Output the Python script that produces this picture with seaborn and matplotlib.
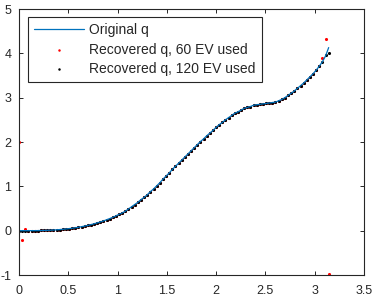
import numpy as np
import pandas as pd
import matplotlib
matplotlib.use("Agg")
import matplotlib.pyplot as plt
import seaborn as sns

# sample grid (100 samples on [0, pi])
x_vals = np.linspace(0, np.pi, 100)

q_original = [
    0.000, 0.000, 0.000, 0.000, 0.001, 0.001, 0.002, 0.004, 0.006, 0.008,
    0.011, 0.015, 0.019, 0.025, 0.031, 0.038, 0.046, 0.055, 0.065, 0.077,
    0.089, 0.104, 0.119, 0.136, 0.155, 0.175, 0.197, 0.220, 0.246, 0.273,
    0.302, 0.333, 0.370, 0.400, 0.440, 0.490, 0.540, 0.590, 0.640, 0.700,
    0.750, 0.810, 0.880, 0.940, 1.010, 1.080, 1.160, 1.230, 1.300, 1.380,
    1.450, 1.520, 1.590, 1.660, 1.730, 1.800, 1.870, 1.940, 2.010, 2.070,
    2.140, 2.200, 2.260, 2.330, 2.390, 2.440, 2.500, 2.550, 2.600, 2.650,
    2.680, 2.720, 2.760, 2.780, 2.800, 2.830, 2.840, 2.850, 2.860, 2.870,
    2.880, 2.890, 2.900, 2.930, 2.960, 3.000, 3.050, 3.100, 3.150, 3.210,
    3.270, 3.330, 3.400, 3.470, 3.540, 3.620, 3.710, 3.810, 3.940, 4.130,
]

q_60ev = [
    2.000, -0.200, 0.040, 0.000, 0.001, 0.001, 0.002, 0.004, 0.006, 0.008,
    0.011, 0.015, 0.019, 0.025, 0.031, 0.038, 0.046, 0.055, 0.065, 0.077,
    0.089, 0.104, 0.119, 0.136, 0.155, 0.175, 0.197, 0.220, 0.246, 0.273,
    0.302, 0.333, 0.370, 0.400, 0.440, 0.490, 0.540, 0.590, 0.640, 0.700,
    0.750, 0.810, 0.880, 0.940, 1.010, 1.080, 1.160, 1.230, 1.300, 1.380,
    1.450, 1.520, 1.590, 1.660, 1.730, 1.800, 1.870, 1.940, 2.010, 2.070,
    2.140, 2.200, 2.260, 2.330, 2.390, 2.440, 2.500, 2.550, 2.600, 2.650,
    2.680, 2.720, 2.760, 2.780, 2.800, 2.830, 2.840, 2.850, 2.860, 2.870,
    2.880, 2.890, 2.900, 2.930, 2.960, 3.000, 3.050, 3.100, 3.150, 3.210,
    3.270, 3.330, 3.400, 3.470, 3.540, 3.620, 3.710, 3.900, 4.320, -0.970,
]

q_120ev = [
    0.000, 0.000, 0.000, 0.000, 0.001, 0.001, 0.002, 0.004, 0.006, 0.008,
    0.011, 0.015, 0.019, 0.025, 0.031, 0.038, 0.046, 0.055, 0.065, 0.077,
    0.089, 0.104, 0.119, 0.136, 0.155, 0.175, 0.197, 0.220, 0.246, 0.273,
    0.302, 0.333, 0.370, 0.400, 0.440, 0.490, 0.540, 0.590, 0.640, 0.700,
    0.750, 0.810, 0.880, 0.940, 1.010, 1.080, 1.160, 1.230, 1.300, 1.380,
    1.450, 1.520, 1.590, 1.660, 1.730, 1.800, 1.870, 1.940, 2.010, 2.070,
    2.140, 2.200, 2.260, 2.330, 2.390, 2.440, 2.500, 2.550, 2.600, 2.650,
    2.680, 2.720, 2.760, 2.780, 2.800, 2.830, 2.840, 2.850, 2.860, 2.870,
    2.880, 2.890, 2.900, 2.930, 2.960, 3.000, 3.050, 3.100, 3.150, 3.210,
    3.270, 3.330, 3.400, 3.470, 3.540, 3.620, 3.710, 3.810, 3.960, 4.010,
]

labels = ["Original q", "Recovered q, 60 EV used", "Recovered q, 120 EV used"]
x_ticks = [0, 0.5, 1, 1.5, 2, 2.5, 3, 3.5]
x_tick_labels = ["0", "0.5", "1", "1.5", "2", "2.5", "3", "3.5"]
y_ticks = [-1, 0, 1, 2, 3, 4, 5]
y_tick_labels = ["-1", "0", "1", "2", "3", "4", "5"]

sns.set_style("ticks")
plt.rcParams["font.family"] = ["Liberation Sans", "DejaVu Sans"]

fig = plt.figure(figsize=(3.74, 2.99), dpi=100)
ax = fig.add_axes([19 / 374, 1 - 275 / 299, 345 / 374, 266 / 299])

df = pd.DataFrame({"x": x_vals, "orig": q_original, "r60": q_60ev, "r120": q_120ev})

sns.lineplot(data=df, x="x", y="orig", ax=ax, color="#0072BD", linewidth=0.9,
             label=labels[0], sort=False)
sns.scatterplot(data=df, x="x", y="r60", ax=ax, color="#FF0000", s=5,
                linewidth=0, marker="o", label=labels[1])
sns.scatterplot(data=df, x="x", y="r120", ax=ax, color="#000000", s=5,
                linewidth=0, marker="o", label=labels[2])

ax.set_xlim(0, 3.5)
ax.set_ylim(-1, 5)
ax.set_xticks(x_ticks)
ax.set_xticklabels(x_tick_labels)
ax.set_yticks(y_ticks)
ax.set_yticklabels(y_tick_labels)
ax.set_xlabel("")
ax.set_ylabel("")

for side in ["left", "right", "top", "bottom"]:
    ax.spines[side].set_visible(True)
    ax.spines[side].set_color("#262626")
    ax.spines[side].set_linewidth(0.8)

ax.tick_params(direction="in", length=3, width=0.7, color="#262626",
               labelcolor="#262626", labelsize=9, top=True, right=True)
ax.tick_params(axis="x", pad=7)
ax.tick_params(axis="y", pad=5.5)

leg = ax.legend(loc="upper left", bbox_to_anchor=(0.026, 0.97), borderaxespad=0,
                fontsize=10, frameon=True, fancybox=False, edgecolor="#262626",
                handlelength=3.6, handletextpad=0.35, labelspacing=0.38,
                borderpad=0.45, markerscale=0.8)
leg.get_frame().set_linewidth(0.8)
leg.get_frame().set_alpha(1)

fig.savefig("out.png", dpi=100)
